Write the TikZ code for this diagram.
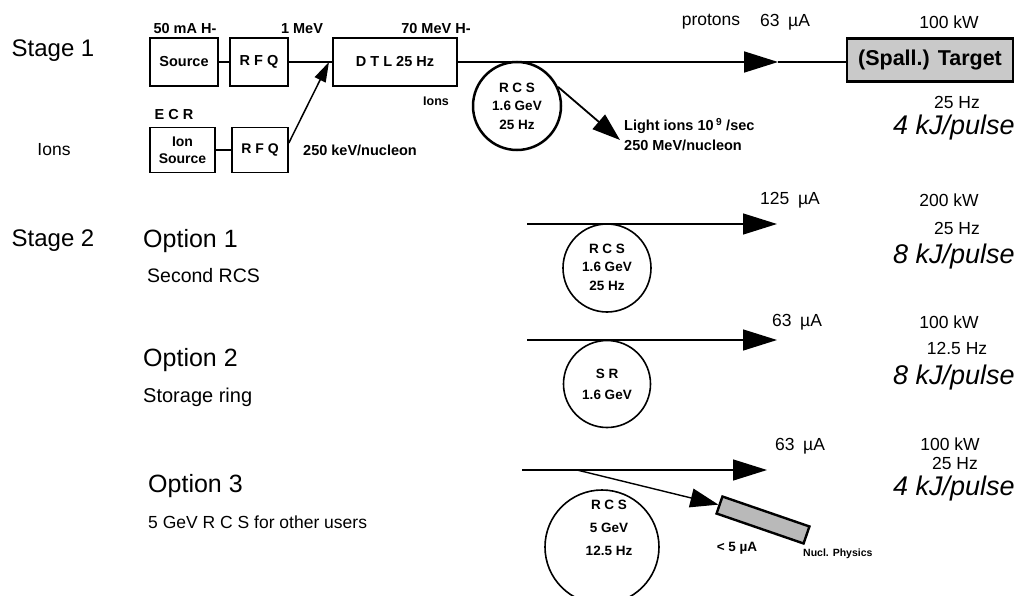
\documentclass[tikz,border=0pt]{standalone}
\usepackage{fontspec}
\setmainfont{Liberation Sans}
\usetikzlibrary{arrows.meta}
\begin{document}
\begin{tikzpicture}[x=1pt,y=-1pt,
  lab/.style={inner sep=0pt, font=\fontsize{24}{26}\selectfont},
  sub/.style={inner sep=0pt, font=\fontsize{19.5}{21}\selectfont},
  sm/.style={inner sep=0pt, font=\fontsize{14.5}{16}\selectfont\bfseries},
  tiny/.style={inner sep=0pt, font=\fontsize{13.5}{18.5}\selectfont\bfseries, align=center},
  rc/.style={inner sep=0pt, font=\fontsize{17.5}{19}\selectfont},
  big/.style={inner sep=0pt, font=\fontsize{27}{30}\selectfont\itshape},
  thickbox/.style={draw, line width=2.6pt, inner sep=0pt, font=\fontsize{14.5}{16}\selectfont\bfseries},
  thinbox/.style={draw, line width=1.6pt, inner sep=0pt, font=\fontsize{14}{17}\selectfont\bfseries, align=center},
  ring/.style={circle, draw, line width=1.6pt, inner sep=0pt},
  beam/.style={line width=1.8pt},
  bigtip/.style={-{Triangle[length=34pt,width=21pt]}},
  midtip/.style={-{Triangle[length=28pt,width=19pt]}},
  smalltip/.style={-{Triangle[length=20pt,width=12pt]}},
]
\useasboundingbox (0,0) rectangle (1017,596);

% ---------------- Stage 1 ----------------
\node[lab] (st1) at (53,51) {Stage 1};
\node[sub, font=\fontsize{17.5}{19}\selectfont] (ions) at (54,150) {Ions};

\node[sm] (l50) at (185,29) {50 mA H-};
\node[thickbox, minimum width=68pt, minimum height=48pt] (src) at (184,62) {Source};
\node[thickbox, minimum width=58pt, minimum height=48pt] (rfq1) at (259,62) {R F Q};
\node[sm] (l1mev) at (302,29) {1 MeV};
\node[thickbox, minimum width=124pt, minimum height=48pt] (dtl) at (395,62) {D T L 25 Hz};
\node[sm] (l70) at (436,29) {70 MeV H-};
\node[sm, font=\fontsize{12.5}{13}\selectfont\bfseries] (ionsb) at (436,101) {Ions};

\coordinate (jn) at (329,62);
\draw[beam] (src.east) -- (rfq1.west);
\draw[beam] (rfq1.east) -- (jn) -- (dtl.west |- jn);

\node[thickbox, fill=gray!42, minimum width=166pt, minimum height=43pt,
      font=\fontsize{21.5}{23}\selectfont\bfseries] (tgt) at (930,60) {(Spall.) Target};
\coordinate (tip1) at (778,62);
\draw[beam, bigtip] (dtl.east |- tip1) -- (tip1);
\draw[beam] (tip1) -- (tgt.west |- tip1);

\node[rc] (prot) at (711,22) {protons};
\node[rc] (i63a) at (785,22) {63\hspace{0.5em}µA};
\node[rc] (p1) at (949,22) {100 kW};
\node[rc] (h1) at (957,102) {25 Hz};
\node[big] (k1) at (954,128) {4 kJ/pulse};

\node[ring, line width=2.5pt, minimum size=88pt] (rcs1) at (517,106) {};
\node[tiny] (rcs1t) at (517,106) {R C S\\1.6 GeV\\25 Hz};
\coordinate (li) at (620,140);
\draw[beam, midtip] (rcs1.25) -- (li);
\node[sm, anchor=west] (lions) at (624,126) {Light ions 10\,\textsuperscript{9} /sec};
\node[sm, anchor=west] (l250m) at (624,145) {250 MeV/nucleon};

\node[sm] (ecr) at (174,115) {E C R};
\node[thinbox, minimum width=65pt, minimum height=45pt] (isrc) at (182.5,150) {Ion\\Source};
\node[thinbox, minimum width=56pt, minimum height=45pt] (rfq2) at (260,150) {R F Q};
\draw[beam, line width=1.4pt] (isrc.east) -- (rfq2.west);
\coordinate (rs) at ([yshift=7pt]rfq2.east);
\draw[beam, line width=1.5pt, smalltip] (rs) -- (jn);
\node[sm, anchor=west] (l250k) at (303,150) {250 keV/nucleon};

% ---------------- Stage 2, option 1 ----------------
\node[lab] (st2) at (53,241) {Stage 2};
\node[lab, font=\fontsize{25}{27}\selectfont, anchor=west] (o1) at (143,241) {Option 1};
\node[sub, anchor=west] (o1s) at (147,276) {Second RCS};
\coordinate (a1s) at (527,224);
\coordinate (a1e) at (777,224);
\draw[beam, line width=1.4pt, bigtip] (a1s) -- (a1e);
\node[rc] (c125) at (790,200) {125\hspace{0.5em}µA};
\node[rc] (p2) at (949,200) {200 kW};
\node[rc] (h2) at (957,228) {25 Hz};
\node[big] (k2) at (954,257) {8 kJ/pulse};
\node[ring, minimum size=88pt] (rcs2) at (607,268) {};
\node[tiny] (rcs2t) at (607,267) {R C S\\1.6 GeV\\25 Hz};

% ---------------- option 2 ----------------
\node[lab, font=\fontsize{25}{27}\selectfont, anchor=west] (o2) at (143,360) {Option 2};
\node[sub, font=\fontsize{20}{22}\selectfont, anchor=west] (o2s) at (143,397) {Storage ring};
\coordinate (a2s) at (527,340);
\coordinate (a2e) at (777,340);
\draw[beam, line width=1.4pt, bigtip] (a2s) -- (a2e);
\node[rc] (c63b) at (797,322) {63\hspace{0.5em}µA};
\node[rc] (p3) at (949,322) {100 kW};
\node[rc] (h3) at (957,348) {12.5 Hz};
\node[big] (k3) at (954,378) {8 kJ/pulse};
\node[ring, minimum size=87pt] (sr) at (607,384) {};
\node[tiny, font=\fontsize{13.5}{21}\selectfont\bfseries] (srt) at (607,384) {S R\\1.6 GeV};

% ---------------- option 3 ----------------
\node[lab, font=\fontsize{25}{27}\selectfont, anchor=west] (o3) at (148,486) {Option 3};
\node[sub, font=\fontsize{17.5}{19}\selectfont, anchor=west] (o3s) at (148,522) {5 GeV R C S for other users};
\coordinate (a3s) at (522,470);
\coordinate (a3e) at (767,470);
\draw[beam, line width=1.4pt, bigtip] (a3s) -- (a3e);
\node[rc] (c63c) at (800,446) {63\hspace{0.5em}µA};
\node[rc] (p4) at (950,444) {100 kW};
\node[rc] (h4) at (955,463) {25 Hz};
\node[big] (k4) at (954,489) {4 kJ/pulse};
\node[ring, minimum size=114pt] (rcs3) at (602,547) {};
\node[tiny, font=\fontsize{13.5}{23}\selectfont\bfseries] (rcs3t) at (609,528) {R C S\\5 GeV\\12.5 Hz};
\node[draw, line width=2.4pt, fill=gray!55, minimum width=92pt, minimum height=18pt,
      inner sep=0pt, rotate=-19] (np) at (763,520) {};
\coordinate (br) at (577,470);
\draw[beam, line width=1.4pt, midtip] (br) -- (np.west);
\node[sm, font=\fontsize{13.5}{15}\selectfont\bfseries] (c5) at (737,548) {< 5 µA};
\node[sm, font=\fontsize{10.5}{12}\selectfont\bfseries, anchor=west] (nph) at (803,554) {Nucl. Physics};
\end{tikzpicture}
\end{document}
